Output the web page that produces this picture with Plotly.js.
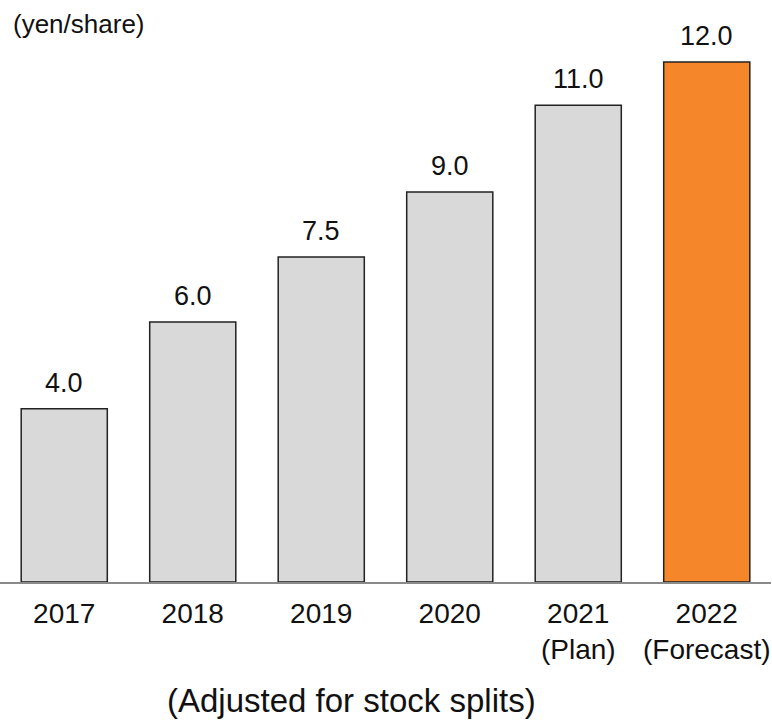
<!DOCTYPE html>
<html>
<head>
<meta charset="utf-8">
<script src="https://cdn.plot.ly/plotly-3.0.1.min.js"></script>
<style>html,body{margin:0;padding:0;background:#fff;}#chart{width:772px;height:723px;}</style>
</head>
<body>
<div id="chart"></div>
<script>
var categories = ['2017', '2018', '2019', '2020', '2021', '2022'];
var tickLabels = ['2017', '2018', '2019', '2020', '2021<br>(Plan)', '2022<br>(Forecast)'];
var dividends = [4.0, 6.0, 7.5, 9.0, 11.0, 12.0];
var barColors = ['#d9d9d9', '#d9d9d9', '#d9d9d9', '#d9d9d9', '#d9d9d9', '#f5872a'];
var unitLabel = '(yen/share)';
var noteLabel = '(Adjusted for stock splits)';

var FONT = 'Liberation Sans, Arial, sans-serif';

var trace = {
  type: 'bar',
  x: categories,
  y: dividends,
  marker: { color: barColors, line: { color: '#222222', width: 1.5 } },
  hoverinfo: 'none'
};

var annotations = dividends.map(function (v, i) {
  return {
    x: i, y: v, xref: 'x', yref: 'y',
    text: v.toFixed(1), showarrow: false,
    xanchor: 'center', yanchor: 'middle', yshift: 26,
    font: { family: FONT, size: 27, color: '#111111' }
  };
});
annotations.push({
  xref: 'paper', yref: 'paper', x: 0, y: 0.993, xshift: 11,
  xanchor: 'left', yanchor: 'middle', text: unitLabel, showarrow: false,
  font: { family: FONT, size: 26, color: '#111111' }
});
annotations.push({
  xref: 'paper', yref: 'paper', x: 351 / 771, y: -0.21,
  xanchor: 'center', yanchor: 'middle', text: noteLabel, showarrow: false,
  font: { family: FONT, size: 33, color: '#111111' }
});

var layout = {
  width: 772, height: 723,
  margin: { l: 0, r: 1, t: 20, b: 141, pad: 0 },
  paper_bgcolor: '#ffffff', plot_bgcolor: '#ffffff',
  bargap: 0.33,
  showlegend: false,
  font: { family: FONT, color: '#111111' },
  xaxis: {
    type: 'category',
    range: [-0.5, categories.length - 0.5],
    tickmode: 'array', tickvals: categories, ticktext: tickLabels,
    showline: true, linecolor: '#8a8a8a', linewidth: 2,
    ticks: '', showgrid: false, zeroline: false,
    ticklabelstandoff: 5,
    tickfont: { family: FONT, size: 28, color: '#111111' },
    fixedrange: true
  },
  yaxis: {
    range: [0, 562 / 43.333], visible: false, showgrid: false, zeroline: false,
    fixedrange: true
  },
  annotations: annotations
};

Plotly.newPlot('chart', [trace], layout, { displayModeBar: false, staticPlot: true });
</script>
</body>
</html>
